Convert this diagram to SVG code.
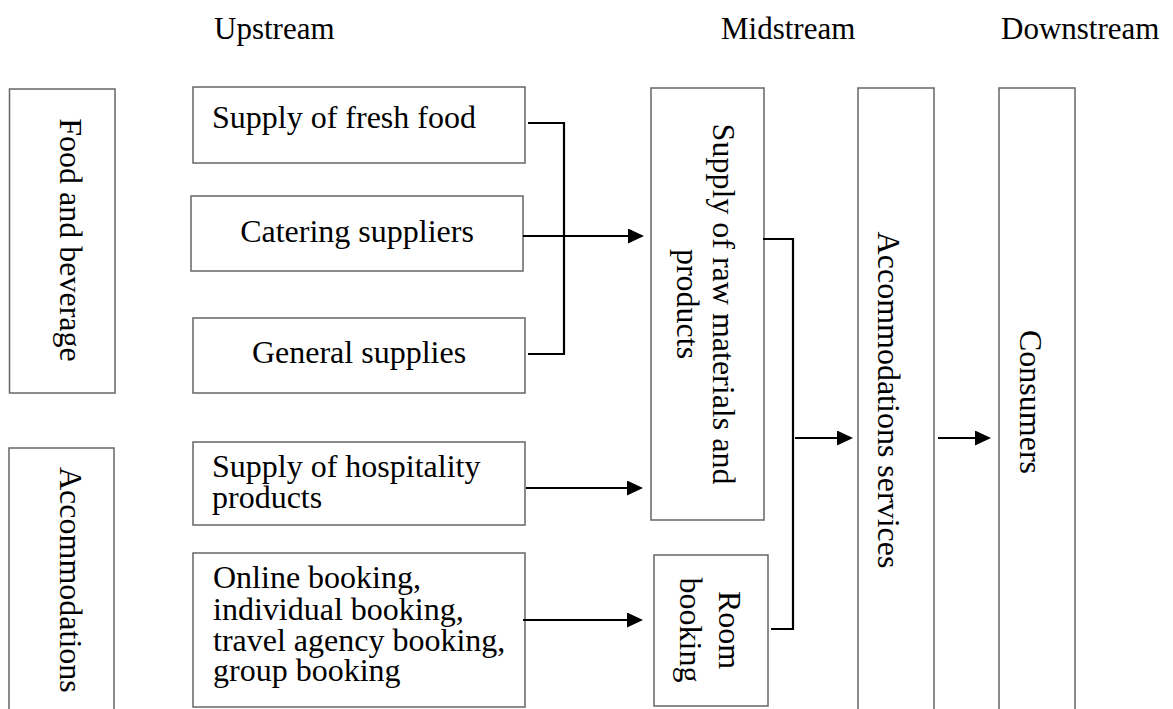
<svg xmlns="http://www.w3.org/2000/svg" width="1173" height="709" viewBox="0 0 1173 709">
<style>
  text { font-family: "Liberation Serif", "Times New Roman", serif; font-size: 32px; fill: #000; }
  .hdr { font-size: 31px; }
  .box { fill: #fff; stroke: #666; stroke-width: 1.5; }
  .conn { fill: none; stroke: #000; stroke-width: 2.2; }
  .mid { text-anchor: middle; }
</style>
<defs>
  <marker id="arr" markerUnits="userSpaceOnUse" markerWidth="18" markerHeight="16" refX="2" refY="7.5" orient="auto">
    <path d="M0,0 L16,7.5 L0,15 z" fill="#000"/>
  </marker>
</defs>
<rect width="1173" height="709" fill="#fff"/>

<g id="headers">
  <text class="hdr" x="214" y="39">Upstream</text>
  <text class="hdr" x="721" y="39">Midstream</text>
  <text class="hdr" x="1001" y="39">Downstream</text>
</g>

<g id="food-beverage">
  <rect class="box" x="9.5" y="89" width="105.5" height="304"/>
  <text class="mid" transform="translate(60,240) rotate(90)">Food and beverage</text>
</g>
<g id="accommodations">
  <rect class="box" x="9" y="448" width="105" height="270"/>
  <text transform="translate(60,467) rotate(90)">Accommodations</text>
</g>

<g id="fresh-food">
  <rect class="box" x="193" y="87" width="332" height="76"/>
  <text x="212" y="128">Supply of fresh food</text>
</g>
<g id="catering">
  <rect class="box" x="191" y="196" width="332" height="75"/>
  <text class="mid" x="357" y="242">Catering suppliers</text>
</g>
<g id="general">
  <rect class="box" x="193" y="318" width="332" height="75"/>
  <text class="mid" x="359" y="363">General supplies</text>
</g>
<g id="hospitality">
  <rect class="box" x="193" y="442" width="332" height="83"/>
  <text x="212" y="477">Supply of hospitality<tspan x="212" y="508">products</tspan></text>
</g>
<g id="online">
  <rect class="box" x="193" y="553" width="332" height="154"/>
  <text x="213" y="588">Online booking,<tspan x="213" y="620">individual booking,</tspan><tspan x="213" y="651">travel agency booking,</tspan><tspan x="213" y="681">group booking</tspan></text>
</g>

<g id="raw-materials">
  <rect class="box" x="651" y="88" width="113" height="432"/>
  <text class="mid" transform="translate(713,304) rotate(90)">Supply of raw materials and<tspan x="0" y="36">products</tspan></text>
</g>
<g id="room-booking">
  <rect class="box" x="654" y="555" width="114" height="151"/>
  <text class="mid" transform="translate(719,630) rotate(90)">Room<tspan x="0" y="39">booking</tspan></text>
</g>
<g id="accommodation-services">
  <rect class="box" x="858" y="88" width="76" height="630"/>
  <text class="mid" transform="translate(878,400) rotate(90)">Accommodations services</text>
</g>
<g id="consumers">
  <rect class="box" x="999" y="88" width="76" height="630"/>
  <text class="mid" transform="translate(1020,402) rotate(90)">Consumers</text>
</g>

<g id="connectors">
  <polyline class="conn" points="528,123 564,123 564,354 528,354"/>
  <line class="conn" x1="523" y1="236" x2="630" y2="236" marker-end="url(#arr)"/>
  <line class="conn" x1="526" y1="488" x2="629" y2="488" marker-end="url(#arr)"/>
  <line class="conn" x1="523" y1="620" x2="629" y2="620" marker-end="url(#arr)"/>
  <polyline class="conn" points="763,239 793,239 793,629 771,629"/>
  <line class="conn" x1="795" y1="438" x2="839" y2="438" marker-end="url(#arr)"/>
  <line class="conn" x1="938" y1="438" x2="977" y2="438" marker-end="url(#arr)"/>
</g>
</svg>
